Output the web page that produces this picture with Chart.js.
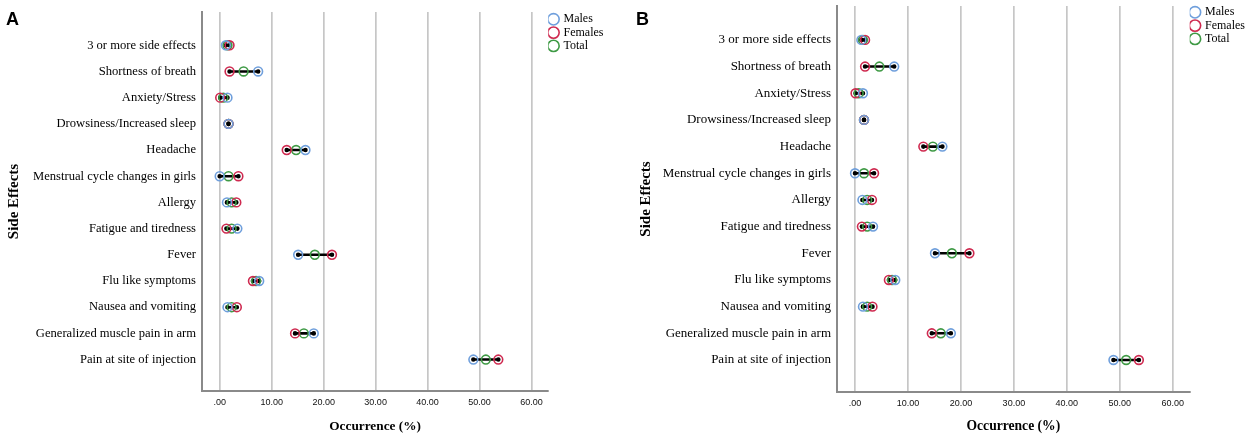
<!DOCTYPE html>
<html>
<head>
<meta charset="utf-8">
<script src="https://cdn.jsdelivr.net/npm/chart.js@4.4.1/dist/chart.umd.min.js"></script>
<style>
  body { margin: 0; background: #fff; width: 1248px; height: 439px; position: relative; overflow: hidden; }
  .panel { position: absolute; top: 0; height: 439px; }
  .tag { position: absolute; font: bold 18px "Liberation Sans", Arial, sans-serif; line-height: 18px; color: #000; }
</style>
</head>
<body>
<div class="panel" style="left:0;width:624px"><canvas id="chartA"></canvas></div>
<div class="panel" style="left:624px;width:632px"><canvas id="chartB"></canvas></div>
<div class="tag" style="left:6px;top:10px">A</div>
<div class="tag" style="left:636px;top:10px">B</div>
<script>
// side effects, top to bottom
var categories = ['3 or more side effects', 'Shortness of breath', 'Anxiety/Stress',
  'Drowsiness/Increased sleep', 'Headache', 'Menstrual cycle changes in girls', 'Allergy',
  'Fatigue and tiredness', 'Fever', 'Flu like symptoms', 'Nausea and vomiting',
  'Generalized muscle pain in arm', 'Pain at site of injection'];

// occurrence (%)
var males   = [1.2, 7.4, 1.5, 1.7, 16.5, 0.0, 1.4, 3.4, 15.1, 7.6, 1.5, 18.1, 48.8];
var females = [1.9, 1.9, 0.1, 1.7, 12.9, 3.6, 3.2, 1.3, 21.6, 6.4, 3.3, 14.5, 53.6];
var total   = [1.5, 4.6, 0.7, 1.7, 14.7, 1.7, 2.3, 2.3, 18.3, 7.0, 2.3, 16.2, 51.2];

var xTicks = [0, 10, 20, 30, 40, 50, 60];

var serif = '"Liberation Serif", "Times New Roman", serif';
var sans = '"Liberation Sans", Arial, sans-serif';

function circles(label, values, color) {
  return {
    label: label,
    data: values.map(function (v, i) { return { x: v, y: i }; }),
    showLine: false,
    borderColor: color,
    backgroundColor: 'rgba(255,255,255,0)',
    borderWidth: 1.6,
    pointRadius: 4.4,
    pointHoverRadius: 4.4,
    pointStyle: 'circle',
    order: 1
  };
}

// black line from lowest to highest value in each row
function rangeLines() {
  var out = [];
  for (var i = 0; i < categories.length; i++) {
    var lo = Math.min(males[i], females[i], total[i]);
    var hi = Math.max(males[i], females[i], total[i]);
    out.push({
      label: '',
      data: [{ x: lo, y: i }, { x: hi, y: i }],
      showLine: true,
      borderColor: '#000',
      backgroundColor: '#000',
      borderWidth: 2.6,
      pointRadius: 1,
      pointHoverRadius: 1,
      order: 2
    });
  }
  return out;
}

function makeChart(id, o) {
  var datasets = [
    circles('Males', males, '#6f9fdc'),
    circles('Females', females, '#cf2a50'),
    circles('Total', total, '#3f9a45')
  ].concat(rangeLines());

  return new Chart(document.getElementById(id), {
    type: 'scatter',
    data: { datasets: datasets },
    options: {
      responsive: true,
      maintainAspectRatio: false,
      animation: false,
      layout: { padding: { top: o.top, right: o.right, left: 0, bottom: 0 } },
      plugins: {
        tooltip: { enabled: false },
        legend: {
          position: 'right',
          align: 'start',
          labels: {
            filter: function (item) { return item.datasetIndex < 3; },
            usePointStyle: true,
            boxWidth: 8,
            boxHeight: 8,
            padding: 1.3,
            color: '#000',
            font: { family: serif, size: 12 }
          }
        }
      },
      scales: {
        x: {
          type: 'linear',
          min: -3.4,
          max: 63.2,
          afterBuildTicks: function (s) { s.ticks = xTicks.map(function (v) { return { value: v }; }); },
          afterFit: function (s) { s.height = o.bottomH; s.paddingLeft = 0; s.paddingRight = 0; },
          ticks: {
            color: '#111',
            padding: 6,
            font: { family: sans, size: o.tickSize },
            callback: function (v) { return v === 0 ? '.00' : v.toFixed(2); }
          },
          grid: { color: '#c6c6c6', lineWidth: 1.7, drawTicks: false },
          border: { color: '#8a8a8a', width: 2 },
          title: {
            display: true,
            text: 'Occurrence (%)',
            color: '#000',
            padding: { top: 9 },
            font: { family: serif, size: o.titleSize, weight: 'bold' }
          }
        },
        y: {
          type: 'linear',
          reverse: true,
          min: -1.27,
          max: 13.2,
          afterBuildTicks: function (s) { s.ticks = categories.map(function (c, i) { return { value: i }; }); },
          afterFit: function (s) { s.width = o.leftW; s.paddingTop = 0; s.paddingBottom = 0; },
          ticks: {
            autoSkip: false,
            color: '#000',
            padding: 6,
            font: { family: serif, size: o.catSize },
            callback: function (v, i) { return categories[i]; }
          },
          grid: { display: false, drawTicks: false },
          border: { color: '#8a8a8a', width: 2 },
          title: {
            display: true,
            text: 'Side Effects',
            color: '#000',
            padding: { top: o.yTitlePad, bottom: 0 },
            font: { family: serif, size: 15, weight: 'bold' }
          }
        }
      }
    }
  });
}

makeChart('chartA', { top: 12, right: 10.5, bottomH: 48, leftW: 202, tickSize: 9, titleSize: 13.3, catSize: 12.6, yTitlePad: 5 });
makeChart('chartB', { top: 5, right: 1, bottomH: 47, leftW: 213, tickSize: 9, titleSize: 13.6, catSize: 13, yTitlePad: 13 });
</script>
</body>
</html>
